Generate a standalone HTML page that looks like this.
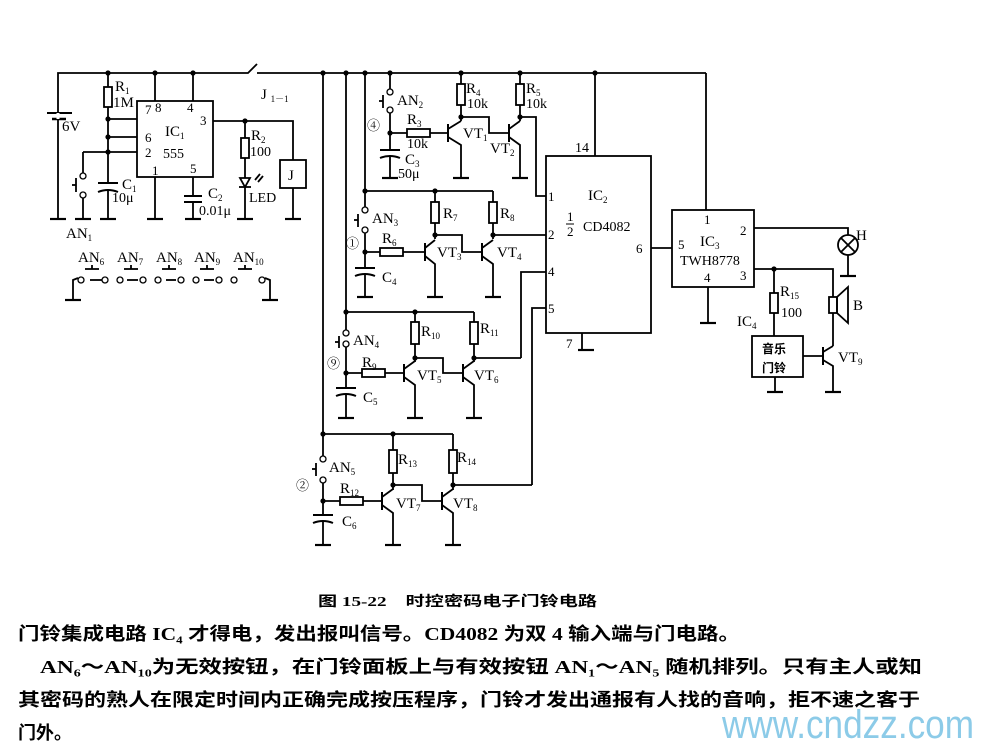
<!DOCTYPE html>
<html><head><meta charset="utf-8"><style>
body{margin:0;background:#fff;}
svg{display:block}
text{font-family:"Liberation Serif","Noto Serif CJK SC",serif;fill:#000}
.s{font-size:15px}
.cj{font-family:"Liberation Serif","Noto Sans CJK SC",sans-serif;font-weight:bold}
.wm{font-family:"Liberation Sans","DejaVu Sans",sans-serif;fill:#8ccbe8}
</style></head><body>
<svg width="992" height="754" viewBox="0 0 992 754" xmlns="http://www.w3.org/2000/svg">
<defs>
<g id="gnd"><line x1="-8" y1="0" x2="8" y2="0" stroke="#000" stroke-width="2.2"/></g>
</defs>
<g stroke="#000" stroke-width="1.8" fill="none">
<polyline points="58,219 58,73 248,73 257,64"/>
<line x1="257" y1="73" x2="706" y2="73"/>
<line x1="706" y1="73" x2="706" y2="210"/>
<line x1="47" y1="113" x2="72" y2="113" stroke-width="2"/>
<line x1="52" y1="119" x2="66" y2="119" stroke-width="2.5"/>
<line x1="58" y1="113" x2="58" y2="119" stroke="#fff" stroke-width="3"/>
<line x1="108" y1="73" x2="108" y2="183"/>
<rect x="104" y="87" width="8" height="20" fill="#fff"/>
<rect x="137" y="101" width="76" height="76"/>
<line x1="155" y1="73" x2="155" y2="101"/>
<line x1="193" y1="73" x2="193" y2="101"/>
<line x1="108" y1="119" x2="137" y2="119"/>
<line x1="108" y1="137" x2="137" y2="137"/>
<line x1="83" y1="152" x2="137" y2="152"/>
<polyline points="83,152 83,173"/>
<line x1="83" y1="198" x2="83" y2="218"/>
<line x1="76" y1="178" x2="76" y2="192"/><line x1="76" y1="185" x2="72" y2="185"/>
<line x1="98" y1="183" x2="118" y2="183" stroke-width="2"/>
<path d="M98,192 Q108,188 118,192" stroke-width="2"/>
<line x1="108" y1="190" x2="108" y2="218"/>
<line x1="155" y1="177" x2="155" y2="218"/>
<line x1="193" y1="177" x2="193" y2="196"/>
<line x1="184" y1="196" x2="202" y2="196" stroke-width="2"/>
<line x1="184" y1="202" x2="202" y2="202" stroke-width="2"/>
<line x1="193" y1="202" x2="193" y2="218"/>
<polyline points="213,121 293,121 293,160"/>
<rect x="280" y="160" width="26" height="28"/>
<line x1="293" y1="188" x2="293" y2="218"/>
<line x1="245" y1="121" x2="245" y2="218"/>
<rect x="241" y="138" width="8" height="20" fill="#fff"/>
<polygon points="240,178 250,178 245,187" fill="#fff"/>
<line x1="239" y1="187" x2="251" y2="187"/>
<line x1="255" y1="180" x2="260" y2="174"/><line x1="258" y1="182" x2="263" y2="176"/>
<polyline points="73,300 73,280 78,278"/>
<polyline points="265,278 270,280 270,300"/>
<line x1="90" y1="280" x2="102" y2="280"/>
<line x1="127" y1="280" x2="138" y2="280"/>
<line x1="166" y1="280" x2="176" y2="280"/>
<line x1="204" y1="280" x2="214" y2="280"/>
<g stroke-width="1.8">
<line x1="85" y1="269" x2="99" y2="269"/><line x1="92" y1="269" x2="92" y2="265"/>
<line x1="124" y1="269" x2="138" y2="269"/><line x1="131" y1="269" x2="131" y2="265"/>
<line x1="162" y1="269" x2="176" y2="269"/><line x1="169" y1="269" x2="169" y2="265"/>
<line x1="200" y1="269" x2="214" y2="269"/><line x1="207" y1="269" x2="207" y2="265"/>
<line x1="238" y1="269" x2="252" y2="269"/><line x1="245" y1="269" x2="245" y2="265"/>
</g>
<line x1="323" y1="73" x2="323" y2="459"/>
<line x1="346" y1="73" x2="346" y2="333"/>
<line x1="365" y1="73" x2="365" y2="210"/>
<line x1="390" y1="73" x2="390" y2="90"/>
<line x1="390" y1="113" x2="390" y2="150"/>
<line x1="383" y1="95" x2="383" y2="108"/><line x1="383" y1="101" x2="379" y2="101"/>
<line x1="380" y1="150" x2="400" y2="150" stroke-width="2"/>
<path d="M380,158 Q390,154 400,158" stroke-width="2"/>
<line x1="390" y1="157" x2="390" y2="178"/>
<line x1="390" y1="133" x2="448" y2="133"/>
<rect x="407" y="129" width="23" height="8" fill="#fff"/>
<line x1="461" y1="73" x2="461" y2="121"/>
<rect x="457" y="84" width="8" height="21" fill="#fff"/>
<line x1="448" y1="124" x2="448" y2="142" stroke-width="2"/>
<polyline points="448,129 461,121"/><polyline points="448,137 461,145 461,178"/>
<polyline points="461,117 489,117 489,133 509,133"/>
<line x1="520" y1="73" x2="520" y2="121"/>
<rect x="516" y="84" width="8" height="21" fill="#fff"/>
<line x1="509" y1="124" x2="509" y2="142" stroke-width="2"/>
<polyline points="509,129 520,121"/><polyline points="509,137 520,145 520,178"/>
<polyline points="520,117 536,117 536,196 546,196"/>
<rect x="546" y="156" width="105" height="177"/>
<line x1="595" y1="73" x2="595" y2="156"/>
<line x1="582" y1="333" x2="582" y2="350"/>
<polyline points="651,248 672,248"/>
<line x1="365" y1="191" x2="493" y2="191"/>
<line x1="365" y1="233" x2="365" y2="268"/>
<line x1="358" y1="214" x2="358" y2="227"/><line x1="358" y1="220" x2="354" y2="220"/>
<line x1="355" y1="268" x2="375" y2="268" stroke-width="2"/>
<path d="M355,276 Q365,272 375,276" stroke-width="2"/>
<line x1="365" y1="275" x2="365" y2="297"/>
<line x1="365" y1="252" x2="425" y2="252"/>
<rect x="380" y="248" width="23" height="8" fill="#fff"/>
<line x1="435" y1="191" x2="435" y2="239"/>
<rect x="431" y="202" width="8" height="21" fill="#fff"/>
<line x1="425" y1="243" x2="425" y2="261" stroke-width="2"/>
<polyline points="425,248 435,240"/><polyline points="425,256 435,264 435,297"/>
<polyline points="435,235 462,235 462,252 482,252"/>
<line x1="493" y1="191" x2="493" y2="239"/>
<rect x="489" y="202" width="8" height="21" fill="#fff"/>
<line x1="482" y1="243" x2="482" y2="261" stroke-width="2"/>
<polyline points="482,248 493,240"/><polyline points="482,256 493,264 493,297"/>
<line x1="493" y1="235" x2="546" y2="235"/>
<polyline points="521,358 521,272 546,272"/>
<polyline points="532,485 532,308 546,308"/>
<line x1="346" y1="312" x2="474" y2="312"/>
<line x1="346" y1="347" x2="346" y2="388"/>
<line x1="339" y1="336" x2="339" y2="348"/><line x1="339" y1="342" x2="335" y2="342"/>
<line x1="336" y1="388" x2="356" y2="388" stroke-width="2"/>
<path d="M336,396 Q346,392 356,396" stroke-width="2"/>
<line x1="346" y1="395" x2="346" y2="418"/>
<line x1="346" y1="373" x2="403" y2="373"/>
<rect x="362" y="369" width="23" height="8" fill="#fff"/>
<line x1="415" y1="312" x2="415" y2="362"/>
<rect x="411" y="322" width="8" height="22" fill="#fff"/>
<line x1="404" y1="364" x2="404" y2="382" stroke-width="2"/>
<polyline points="404,369 415,361"/><polyline points="404,377 415,385 415,418"/>
<polyline points="415,358 443,358 443,373 463,373"/>
<line x1="474" y1="312" x2="474" y2="362"/>
<rect x="470" y="322" width="8" height="22" fill="#fff"/>
<line x1="463" y1="364" x2="463" y2="382" stroke-width="2"/>
<polyline points="463,369 474,361"/><polyline points="463,377 474,385 474,418"/>
<line x1="474" y1="358" x2="521" y2="358"/>
<line x1="323" y1="434" x2="453" y2="434"/>
<line x1="323" y1="483" x2="323" y2="515"/>
<line x1="316" y1="463" x2="316" y2="476"/><line x1="316" y1="469" x2="312" y2="469"/>
<line x1="313" y1="515" x2="333" y2="515" stroke-width="2"/>
<path d="M313,523 Q323,519 333,523" stroke-width="2"/>
<line x1="323" y1="522" x2="323" y2="545"/>
<line x1="323" y1="501" x2="382" y2="501"/>
<rect x="340" y="497" width="23" height="8" fill="#fff"/>
<line x1="393" y1="434" x2="393" y2="490"/>
<rect x="389" y="450" width="8" height="23" fill="#fff"/>
<line x1="382" y1="492" x2="382" y2="510" stroke-width="2"/>
<polyline points="382,497 393,489"/><polyline points="382,505 393,513 393,545"/>
<polyline points="393,485 422,485 422,501 442,501"/>
<line x1="453" y1="434" x2="453" y2="490"/>
<rect x="449" y="450" width="8" height="23" fill="#fff"/>
<line x1="442" y1="492" x2="442" y2="510" stroke-width="2"/>
<polyline points="442,497 453,489"/><polyline points="442,505 453,513 453,545"/>
<line x1="453" y1="485" x2="532" y2="485"/>
<rect x="672" y="210" width="82" height="77"/>
<line x1="708" y1="287" x2="708" y2="323"/>
<polyline points="754,228 848,228 848,235"/>
<circle cx="848" cy="245" r="10"/>
<line x1="841" y1="238" x2="855" y2="252"/><line x1="855" y1="238" x2="841" y2="252"/>
<line x1="848" y1="255" x2="848" y2="276"/>
<polyline points="754,269 833,269 833,297"/>
<rect x="829" y="297" width="8" height="16"/>
<polygon points="837,297 848,287 848,323 837,313"/>
<line x1="833" y1="313" x2="833" y2="346"/>
<line x1="774" y1="269" x2="774" y2="336"/>
<rect x="770" y="293" width="8" height="20" fill="#fff"/>
<rect x="752" y="336" width="51" height="41"/>
<line x1="775" y1="377" x2="775" y2="392"/>
<line x1="803" y1="356" x2="823" y2="356"/>
<line x1="823" y1="347" x2="823" y2="365" stroke-width="2"/>
<polyline points="823,352 833,346"/><polyline points="823,360 833,366 833,392"/>
</g>
<g fill="#fff" stroke="#000" stroke-width="1.3">
<circle cx="83" cy="176" r="3"/><circle cx="83" cy="195" r="3"/>
<circle cx="81" cy="280" r="3"/><circle cx="105" cy="280" r="3"/><circle cx="120" cy="280" r="3"/><circle cx="143" cy="280" r="3"/><circle cx="158" cy="280" r="3"/><circle cx="181" cy="280" r="3"/><circle cx="196" cy="280" r="3"/><circle cx="219" cy="280" r="3"/><circle cx="234" cy="280" r="3"/><circle cx="262" cy="280" r="3"/>
<circle cx="390" cy="92" r="3"/><circle cx="390" cy="110" r="3"/>
<circle cx="365" cy="210" r="3"/><circle cx="365" cy="230" r="3"/>
<circle cx="346" cy="333" r="3"/><circle cx="346" cy="344" r="3"/>
<circle cx="323" cy="459" r="3"/><circle cx="323" cy="480" r="3"/>
</g>
<g fill="#000">
<circle cx="108" cy="73" r="2.6"/><circle cx="155" cy="73" r="2.6"/><circle cx="193" cy="73" r="2.6"/>
<circle cx="108" cy="119" r="2.6"/><circle cx="108" cy="137" r="2.6"/><circle cx="108" cy="152" r="2.6"/>
<circle cx="245" cy="121" r="2.6"/>
<circle cx="323" cy="73" r="2.6"/><circle cx="346" cy="73" r="2.6"/><circle cx="365" cy="73" r="2.6"/><circle cx="390" cy="73" r="2.6"/><circle cx="461" cy="73" r="2.6"/><circle cx="520" cy="73" r="2.6"/><circle cx="595" cy="73" r="2.6"/>
<circle cx="390" cy="133" r="2.6"/><circle cx="461" cy="117" r="2.6"/><circle cx="520" cy="117" r="2.6"/>
<circle cx="365" cy="191" r="2.6"/><circle cx="435" cy="191" r="2.6"/><circle cx="365" cy="252" r="2.6"/><circle cx="435" cy="235" r="2.6"/><circle cx="493" cy="235" r="2.6"/>
<circle cx="346" cy="312" r="2.6"/><circle cx="415" cy="312" r="2.6"/><circle cx="346" cy="373" r="2.6"/><circle cx="415" cy="358" r="2.6"/><circle cx="474" cy="358" r="2.6"/>
<circle cx="323" cy="434" r="2.6"/><circle cx="393" cy="434" r="2.6"/><circle cx="323" cy="501" r="2.6"/><circle cx="393" cy="485" r="2.6"/><circle cx="453" cy="485" r="2.6"/>
<circle cx="774" cy="269" r="2.6"/>
</g>
<g>
<use href="#gnd" x="58" y="219"/><use href="#gnd" x="83" y="219"/><use href="#gnd" x="108" y="219"/><use href="#gnd" x="155" y="219"/><use href="#gnd" x="193" y="219"/><use href="#gnd" x="245" y="219"/><use href="#gnd" x="293" y="219"/>
<use href="#gnd" x="73" y="300"/><use href="#gnd" x="270" y="300"/>
<use href="#gnd" x="390" y="178"/><use href="#gnd" x="461" y="178"/><use href="#gnd" x="520" y="178"/>
<use href="#gnd" x="365" y="297"/><use href="#gnd" x="435" y="297"/><use href="#gnd" x="493" y="297"/>
<use href="#gnd" x="346" y="418"/><use href="#gnd" x="415" y="418"/><use href="#gnd" x="474" y="418"/>
<use href="#gnd" x="323" y="545"/><use href="#gnd" x="393" y="545"/><use href="#gnd" x="453" y="545"/>
<use href="#gnd" x="586" y="350"/><use href="#gnd" x="708" y="323"/><use href="#gnd" x="848" y="276"/><use href="#gnd" x="775" y="392"/><use href="#gnd" x="833" y="392"/>
</g>
<g class="s">
<text x="62" y="131">6V</text>
<text x="115" y="91">R<tspan font-size="9" dy="3">1</tspan></text><text x="113" y="107">1M</text>
<text x="145" y="114" font-size="13">7</text><text x="155" y="112" font-size="13">8</text><text x="187" y="112" font-size="13">4</text><text x="200" y="125" font-size="13">3</text>
<text x="145" y="142" font-size="13">6</text><text x="145" y="157" font-size="13">2</text><text x="152" y="175" font-size="13">1</text><text x="190" y="173" font-size="13">5</text>
<text x="165" y="136">IC<tspan font-size="9" dy="3">1</tspan></text><text x="163" y="158" font-size="14">555</text>
<text x="122" y="189">C<tspan font-size="9" dy="3">1</tspan></text><text x="112" y="202" font-size="14">10μ</text>
<text x="208" y="198">C<tspan font-size="9" dy="3">2</tspan></text><text x="199" y="215" font-size="14">0.01μ</text>
<text x="251" y="140">R<tspan font-size="9" dy="3">2</tspan></text><text x="250" y="156" font-size="14">100</text>
<text x="249" y="202" font-size="14">LED</text>
<text x="288" y="180">J</text>
<text x="261" y="99">J <tspan font-size="9" dy="3">1－1</tspan></text>
<text x="66" y="238">AN<tspan font-size="9" dy="3">1</tspan></text>
<text x="78" y="262">AN<tspan font-size="9" dy="3">6</tspan></text><text x="117" y="262">AN<tspan font-size="9" dy="3">7</tspan></text><text x="156" y="262">AN<tspan font-size="9" dy="3">8</tspan></text><text x="194" y="262">AN<tspan font-size="9" dy="3">9</tspan></text><text x="233" y="262">AN<tspan font-size="9" dy="3">10</tspan></text>
<text x="397" y="105">AN<tspan font-size="9" dy="3">2</tspan></text>
<text x="367" y="130" font-size="13">④</text>
<text x="407" y="124">R<tspan font-size="9" dy="3">3</tspan></text><text x="407" y="148" font-size="14">10k</text>
<text x="405" y="164">C<tspan font-size="9" dy="3">3</tspan></text><text x="398" y="178" font-size="14">50μ</text>
<text x="466" y="93">R<tspan font-size="9" dy="3">4</tspan></text><text x="467" y="108" font-size="14">10k</text>
<text x="526" y="93">R<tspan font-size="9" dy="3">5</tspan></text><text x="526" y="108" font-size="14">10k</text>
<text x="463" y="138">VT<tspan font-size="9" dy="3">1</tspan></text><text x="490" y="153">VT<tspan font-size="9" dy="3">2</tspan></text>
<text x="575" y="152" font-size="14">14</text>
<text x="548" y="201" font-size="13">1</text><text x="548" y="239" font-size="13">2</text><text x="548" y="276" font-size="13">4</text><text x="548" y="313" font-size="13">5</text><text x="566" y="348" font-size="13">7</text><text x="636" y="253" font-size="13">6</text>
<text x="588" y="200">IC<tspan font-size="9" dy="3">2</tspan></text>
<text x="567" y="221" font-size="13">1</text><line x1="566" y1="224" x2="574" y2="224" stroke="#000"/><text x="567" y="236" font-size="13">2</text>
<text x="583" y="231" font-size="14">CD4082</text>
<text x="372" y="223">AN<tspan font-size="9" dy="3">3</tspan></text>
<text x="346" y="248" font-size="13">①</text>
<text x="382" y="243">R<tspan font-size="9" dy="3">6</tspan></text>
<text x="382" y="282">C<tspan font-size="9" dy="3">4</tspan></text>
<text x="443" y="218">R<tspan font-size="9" dy="3">7</tspan></text><text x="500" y="218">R<tspan font-size="9" dy="3">8</tspan></text>
<text x="437" y="257">VT<tspan font-size="9" dy="3">3</tspan></text><text x="497" y="257">VT<tspan font-size="9" dy="3">4</tspan></text>
<text x="353" y="345">AN<tspan font-size="9" dy="3">4</tspan></text>
<text x="327" y="368" font-size="13">⑨</text>
<text x="362" y="367">R<tspan font-size="9" dy="3">9</tspan></text>
<text x="363" y="402">C<tspan font-size="9" dy="3">5</tspan></text>
<text x="421" y="336">R<tspan font-size="9" dy="3">10</tspan></text><text x="480" y="333">R<tspan font-size="9" dy="3">11</tspan></text>
<text x="417" y="380">VT<tspan font-size="9" dy="3">5</tspan></text><text x="474" y="380">VT<tspan font-size="9" dy="3">6</tspan></text>
<text x="329" y="472">AN<tspan font-size="9" dy="3">5</tspan></text>
<text x="296" y="490" font-size="13">②</text>
<text x="340" y="493">R<tspan font-size="9" dy="3">12</tspan></text>
<text x="342" y="526">C<tspan font-size="9" dy="3">6</tspan></text>
<text x="398" y="464">R<tspan font-size="9" dy="3">13</tspan></text><text x="457" y="462">R<tspan font-size="9" dy="3">14</tspan></text>
<text x="396" y="508">VT<tspan font-size="9" dy="3">7</tspan></text><text x="453" y="508">VT<tspan font-size="9" dy="3">8</tspan></text>
<text x="704" y="224" font-size="13">1</text><text x="740" y="235" font-size="13">2</text><text x="740" y="280" font-size="13">3</text><text x="704" y="282" font-size="13">4</text><text x="678" y="249" font-size="13">5</text>
<text x="700" y="246">IC<tspan font-size="9" dy="3">3</tspan></text>
<text x="680" y="265" font-size="14">TWH8778</text>
<text x="856" y="240">H</text><text x="853" y="310">B</text>
<text x="780" y="296">R<tspan font-size="9" dy="3">15</tspan></text><text x="781" y="317" font-size="14">100</text>
<text x="737" y="326">IC<tspan font-size="9" dy="3">4</tspan></text>
<text x="838" y="362">VT<tspan font-size="9" dy="3">9</tspan></text>
<text x="762" y="353" class="cj" font-size="12">音乐</text>
<text x="762" y="372" class="cj" font-size="12">门铃</text>
</g>
<text x="318" y="606" class="cj" font-size="14" textLength="279" lengthAdjust="spacingAndGlyphs">图 15-22　时控密码电子门铃电路</text>
<text x="18" y="640" class="cj" font-size="18" textLength="722" lengthAdjust="spacingAndGlyphs">门铃集成电路 IC₄ 才得电，发出报叫信号。CD4082 为双 4 输入端与门电路。</text>
<text x="40" y="673" class="cj" font-size="18" textLength="882" lengthAdjust="spacingAndGlyphs">AN₆～AN₁₀为无效按钮，在门铃面板上与有效按钮 AN₁～AN₅ 随机排列。只有主人或知</text>
<text x="18" y="706" class="cj" font-size="18" textLength="902" lengthAdjust="spacingAndGlyphs">其密码的熟人在限定时间内正确完成按压程序，门铃才发出通报有人找的音响，拒不速之客于</text>
<text x="18" y="739" class="cj" font-size="18">门外。</text>
<text x="722" y="738" class="wm" font-size="40" textLength="252" lengthAdjust="spacingAndGlyphs">www.cndzz.com</text>
</svg>
</body></html>
